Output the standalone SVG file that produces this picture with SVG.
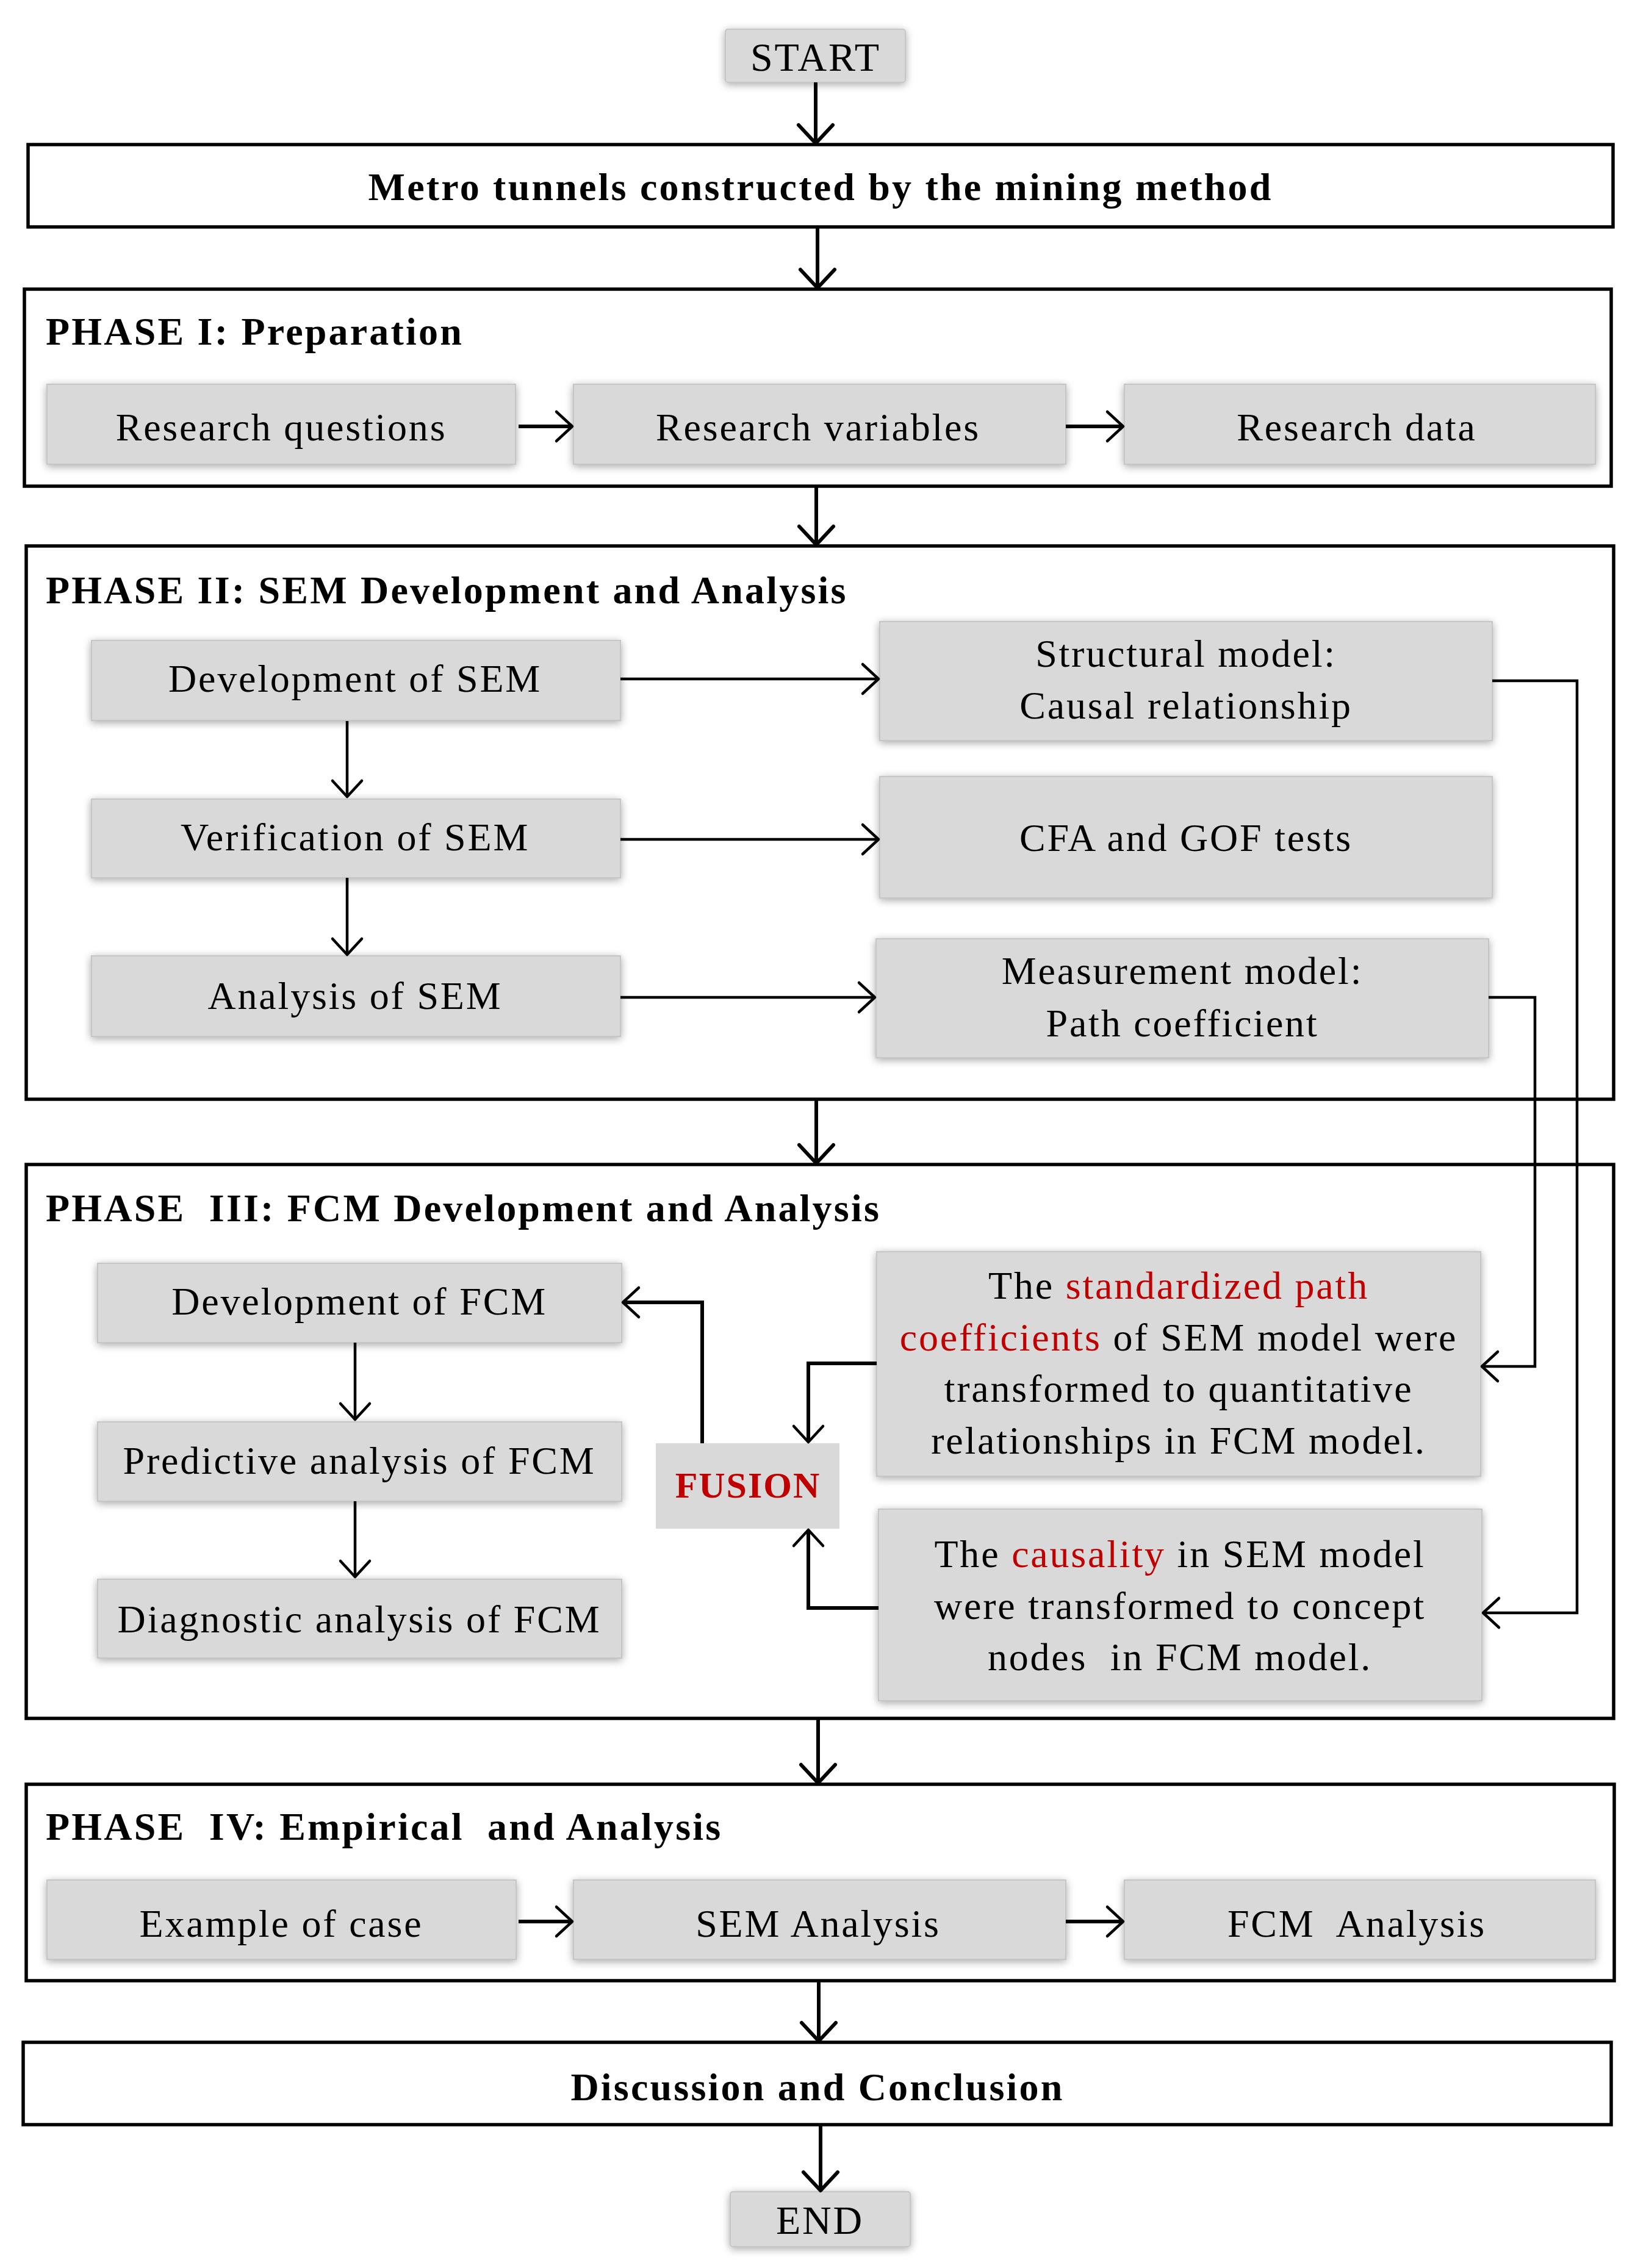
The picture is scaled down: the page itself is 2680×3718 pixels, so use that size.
<svg xmlns="http://www.w3.org/2000/svg" width="2680" height="3718" viewBox="0 0 2680 3718">
<defs>
<style>
.frame{fill:#fff;stroke:#000;stroke-width:5.5}
.gbox{fill:#d9d9d9;stroke:#c6c6c6;stroke-width:2;filter:url(#sh)}
.t{font-family:"Liberation Serif","Times New Roman",serif;font-size:64px;letter-spacing:2.8px;fill:#000;text-anchor:middle}
.b{font-family:"Liberation Serif","Times New Roman",serif;font-size:64px;font-weight:bold;letter-spacing:3.2px;fill:#000;white-space:pre}
.red{fill:#c00000}
.c{fill:none;stroke:#000;stroke-width:6}
.cs{fill:none;stroke:#000;stroke-width:4.5}
</style>
<filter id="sh" x="-10%" y="-30%" width="120%" height="160%">
<feGaussianBlur in="SourceAlpha" stdDeviation="7"/>
<feOffset dx="0" dy="3" result="b"/>
<feComponentTransfer><feFuncA type="linear" slope="0.35"/></feComponentTransfer>
<feMerge><feMergeNode/><feMergeNode in="SourceGraphic"/></feMerge>
</filter>
<marker id="ah" markerUnits="userSpaceOnUse" markerWidth="80" markerHeight="80" viewBox="-40 -40 80 80" refX="0" refY="0" orient="auto" overflow="visible">
<path d="M-30,-28 L0,0 L-30,28" fill="none" stroke="#000" stroke-width="6" stroke-linecap="round" stroke-linejoin="round"/>
</marker>
<marker id="as" markerUnits="userSpaceOnUse" markerWidth="80" markerHeight="80" viewBox="-40 -40 80 80" refX="0" refY="0" orient="auto" overflow="visible">
<path d="M-26,-24 L0,0 L-26,24" fill="none" stroke="#000" stroke-width="4.5" stroke-linecap="round" stroke-linejoin="round"/>
</marker>
</defs>
<rect width="2680" height="3718" fill="#fff"/>

<!-- frames -->
<g id="metro"><rect class="frame" x="46" y="237" width="2598" height="135"/>
<text class="b" x="1345" y="328" text-anchor="middle">Metro tunnels constructed by the mining method</text></g>
<g id="phase1"><rect class="frame" x="40" y="474" width="2601" height="323"/>
<text class="b" x="75" y="565">PHASE I: Preparation</text></g>
<g id="phase2"><rect class="frame" x="43" y="895" width="2602" height="907"/>
<text class="b" x="75" y="989">PHASE II: SEM Development and Analysis</text></g>
<g id="phase3"><rect class="frame" x="43" y="1909" width="2602" height="908"/>
<text class="b" x="75" y="2002">PHASE  III: FCM Development and Analysis</text></g>
<g id="phase4"><rect class="frame" x="43" y="2925" width="2603" height="322"/>
<text class="b" x="75" y="3016">PHASE  IV: Empirical  and Analysis</text></g>
<g id="discussion"><rect class="frame" x="38" y="3348" width="2603" height="135"/>
<text class="b" x="1340" y="3443" text-anchor="middle">Discussion and Conclusion</text></g>

<!-- start / end -->
<g id="start"><rect class="gbox" x="1189" y="48" width="295" height="87" rx="4"/>
<text class="t" x="1337" y="116" style="font-size:66px">START</text></g>
<g id="end"><rect class="gbox" x="1197" y="3593" width="295" height="90" rx="4"/>
<text class="t" x="1344" y="3662" style="font-size:66px">END</text></g>

<!-- phase I nodes -->
<g id="rq"><rect class="gbox" x="77" y="630" width="768" height="131"/><text class="t" x="461" y="722">Research questions</text></g>
<g id="rv"><rect class="gbox" x="940" y="630" width="807" height="131"/><text class="t" x="1341" y="722">Research variables</text></g>
<g id="rd"><rect class="gbox" x="1843" y="630" width="772" height="131"/><text class="t" x="2224" y="722">Research data</text></g>

<!-- phase II nodes -->
<g id="devsem"><rect class="gbox" x="150" y="1050" width="867" height="131"/><text class="t" x="582" y="1134">Development of SEM</text></g>
<g id="versem"><rect class="gbox" x="150" y="1310" width="867" height="129"/><text class="t" x="582" y="1394">Verification of SEM</text></g>
<g id="anasem"><rect class="gbox" x="150" y="1567" width="867" height="132"/><text class="t" x="582" y="1654">Analysis of SEM</text></g>
<g id="struct"><rect class="gbox" x="1442" y="1019" width="1004" height="195"/>
<text class="t" x="1944" y="1093">Structural model:</text><text class="t" x="1944" y="1178">Causal relationship</text></g>
<g id="cfa"><rect class="gbox" x="1442" y="1273" width="1004" height="199"/><text class="t" x="1944" y="1395">CFA and GOF tests</text></g>
<g id="meas"><rect class="gbox" x="1436" y="1539" width="1004" height="195"/>
<text class="t" x="1938" y="1613">Measurement model:</text><text class="t" x="1938" y="1699">Path coefficient</text></g>

<!-- phase III nodes -->
<g id="devfcm"><rect class="gbox" x="160" y="2071" width="859" height="130"/><text class="t" x="589" y="2155">Development of FCM</text></g>
<g id="predfcm"><rect class="gbox" x="160" y="2331" width="859" height="130"/><text class="t" x="589" y="2416">Predictive analysis of FCM</text></g>
<g id="diagfcm"><rect class="gbox" x="160" y="2589" width="859" height="129"/><text class="t" x="589" y="2676">Diagnostic analysis of FCM</text></g>
<g id="fusion"><rect x="1075" y="2366" width="301" height="140" fill="#d9d9d9"/>
<text class="b" x="1226" y="2455" text-anchor="middle" style="font-size:60px;letter-spacing:2px;fill:#c00000">FUSION</text></g>
<g id="stdpath"><rect class="gbox" x="1437" y="2052" width="990" height="368"/>
<text class="t" x="1932" y="2129">The <tspan class="red">standardized path</tspan></text>
<text class="t" x="1932" y="2214"><tspan class="red">coefficients</tspan> of SEM model were</text>
<text class="t" x="1932" y="2298">transformed to quantitative</text>
<text class="t" x="1932" y="2383">relationships in FCM model.</text></g>
<g id="causal"><rect class="gbox" x="1440" y="2474" width="989" height="314"/>
<text class="t" x="1934" y="2569">The <tspan class="red">causality</tspan> in SEM model</text>
<text class="t" x="1934" y="2654">were transformed to concept</text>
<text class="t" x="1934" y="2738" style="white-space:pre">nodes  in FCM model.</text></g>

<!-- phase IV nodes -->
<g id="ex"><rect class="gbox" x="77" y="3082" width="769" height="130"/><text class="t" x="461" y="3175">Example of case</text></g>
<g id="semana"><rect class="gbox" x="940" y="3082" width="807" height="130"/><text class="t" x="1341" y="3175">SEM Analysis</text></g>
<g id="fcmana"><rect class="gbox" x="1843" y="3082" width="772" height="130"/><text class="t" x="2224" y="3175" style="white-space:pre">FCM  Analysis</text></g>

<!-- connectors -->
<g id="connectors">
<path class="c" d="M1337,135 V235" marker-end="url(#ah)"/>
<path class="c" d="M1340,372 V472" marker-end="url(#ah)"/>
<path class="c" d="M1338,797 V893" marker-end="url(#ah)"/>
<path class="c" d="M1338,1802 V1907" marker-end="url(#ah)"/>
<path class="c" d="M1341,2817 V2923" marker-end="url(#ah)"/>
<path class="c" d="M1342,3247 V3346" marker-end="url(#ah)"/>
<path class="c" d="M1345,3483 V3591" marker-end="url(#ah)"/>

<path class="cs" d="M850,699 H938" marker-end="url(#as)" style="stroke-width:6"/>
<path class="cs" d="M1747,699 H1841" marker-end="url(#as)" style="stroke-width:6"/>
<path class="cs" d="M850,3150 H938" marker-end="url(#as)" style="stroke-width:6"/>
<path class="cs" d="M1747,3150 H1841" marker-end="url(#as)" style="stroke-width:6"/>

<path class="cs" d="M569,1182 V1306" marker-end="url(#as)"/>
<path class="cs" d="M569,1439 V1565" marker-end="url(#as)"/>
<path class="cs" d="M1017,1113 H1440" marker-end="url(#as)"/>
<path class="cs" d="M1017,1376 H1440" marker-end="url(#as)"/>
<path class="cs" d="M1017,1635 H1434" marker-end="url(#as)"/>

<path class="cs" d="M582,2201 V2327" marker-end="url(#as)"/>
<path class="cs" d="M582,2461 V2585" marker-end="url(#as)"/>

<path class="cs" d="M2446,1116 H2585 V2644 H2431" marker-end="url(#as)"/>
<path class="cs" d="M2440,1635 H2516 V2240 H2429" marker-end="url(#as)"/>
<path class="c" d="M1437,2235 H1325 V2364" marker-end="url(#as)"/>
<path class="c" d="M1440,2636 H1325 V2508" marker-end="url(#as)"/>
<path class="c" d="M1151,2366 V2135 H1021" marker-end="url(#as)"/>
</g>
</svg>
